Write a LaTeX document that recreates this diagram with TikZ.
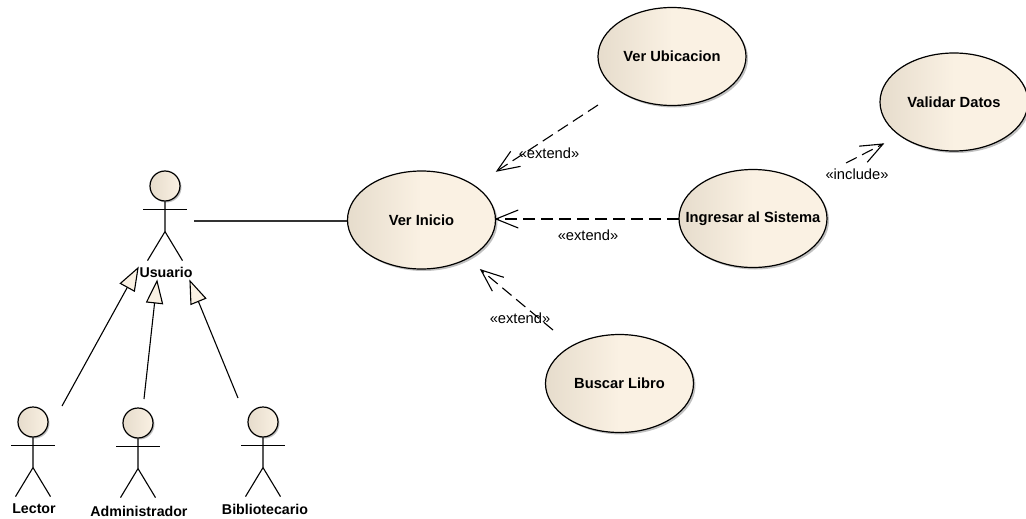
\documentclass[tikz,border=0pt]{standalone}
\usepackage{fontspec}
\setmainfont{Liberation Sans}
\usetikzlibrary{arrows.meta,shapes.geometric,shadows,calc}
\definecolor{fillR}{HTML}{FAF1E3}
\definecolor{fillL}{HTML}{E6DCCC}
\definecolor{inkc}{HTML}{000000}
\tikzset{
  x=1pt,y=-1pt,
  usecase/.style={ellipse,draw=inkc,line width=1.2pt,left color=fillL,right color=fillR,middle color=fillR,
    minimum width=148pt,minimum height=98pt,inner sep=0pt,font=\fontsize{14.7}{16}\selectfont\bfseries,
    drop shadow={shadow xshift=2pt,shadow yshift=-2pt,fill=black!35,opacity=.7}},
  head/.style={circle,draw=inkc,line width=1.2pt,left color=fillL,right color=fillR,minimum size=30pt,inner sep=0pt,
    drop shadow={shadow xshift=1.5pt,shadow yshift=-1.5pt,fill=black!35,opacity=.7}},
  limb/.style={draw=inkc,line width=1.1pt},
  actorlabel/.style={font=\fontsize{14.2}{16}\selectfont\bfseries,inner sep=0pt},
  stereo/.style={font=\fontsize{14.7}{16}\selectfont,inner sep=0pt},
  assoc/.style={draw=black!80,line width=1.2pt},
  dep/.style={draw=inkc,line width=1.1pt,dash pattern=on 12pt off 6pt},
  barb/.style={draw=inkc,line width=1.1pt},
  gen/.style={draw=inkc,line width=1.1pt},
  gentip/.style={draw=inkc,line width=1.1pt,fill=fillR,line join=miter},
}
\newcommand{\actorfig}[3]{% name, x, y of head centre
  \node[head] (#1) at (#2,#3) {};
  \draw[limb] (#1.south) -- ++(0,30) coordinate (#1c) -- ++(-17.5,29);
  \draw[limb] (#1c) -- ++(17.5,29);
  \draw[limb] ($(#1.south)+(-22,8)$) -- ++(44,0);
}
\begin{document}
\begin{tikzpicture}
\useasboundingbox (0,0) rectangle (1026,519);
\actorfig{usuario}{165}{186}
\actorfig{lector}{33}{422}
\actorfig{admin}{138}{423}
\actorfig{biblio}{263}{422}
\node[actorlabel] (usuariol) at (166,272) {Usuario};
\node[actorlabel] (lectorl) at (34,509) {Lector};
\node[actorlabel] (adminl) at (139,511) {Administrador};
\node[actorlabel] (bibliol) at (265,509) {Bibliotecario};
\node[usecase] (inicio) at (421.5,220) {Ver Inicio};
\node[usecase] (ubic) at (672,56.5) {Ver Ubicacion};
\node[usecase] (ingresar) at (753,218.5) {\makebox[0pt]{Ingresar al Sistema}};
\node[usecase] (validar) at (954,102) {Validar Datos};
\node[usecase] (buscar) at (619.5,383.5) {Buscar Libro};
\coordinate (a1) at (194,221);
\draw[assoc] (a1) -- (inicio.west |- a1);
% generalizations
\coordinate (g1s) at (62,406); \coordinate (g1t) at (138,268);
\coordinate (g2s) at (144,399); \coordinate (g2t) at (157,281);
\coordinate (g3s) at (238,398); \coordinate (g3t) at (190,281);
\draw[gen] (g1s) -- ($(g1t)!22pt!(g1s)$);
\draw[gen] (g2s) -- ($(g2t)!22pt!(g2s)$);
\draw[gen] (g3s) -- ($(g3t)!22pt!(g3s)$);
\foreach \t/\s in {g1t/g1s,g2t/g2s,g3t/g3s}{
  \draw[gentip] (\t) -- ($(\t)!22pt!(\s)!8pt!90:(\s)$) -- ($(\t)!22pt!(\s)!8pt!-90:(\s)$) -- cycle;
}
% dependencies
\coordinate (d1s) at (598,105); \coordinate (d1t) at (497,171);
\coordinate (d2s) at (679,219); \coordinate (d2t) at (496,219);
\coordinate (d3s) at (846,163); \coordinate (d3t) at (883,144);
\coordinate (d4s) at (553,330); \coordinate (d4t) at (481,270);
\foreach \s/\t in {d1s/d1t,d2s/d2t,d3s/d3t,d4s/d4t}{
  \draw[dep] (\s) -- (\t);
  \draw[barb] ($(\t)!24pt!22:(\s)$) -- (\t) -- ($(\t)!24pt!-22:(\s)$);
}
\node[stereo] (l1) at (549,153) {«extend»};
\node[stereo] (l2) at (588,235) {«extend»};
\node[stereo] (l3) at (857,174) {«include»};
\node[stereo] (l4) at (520,318) {«extend»};
\end{tikzpicture}
\end{document}
